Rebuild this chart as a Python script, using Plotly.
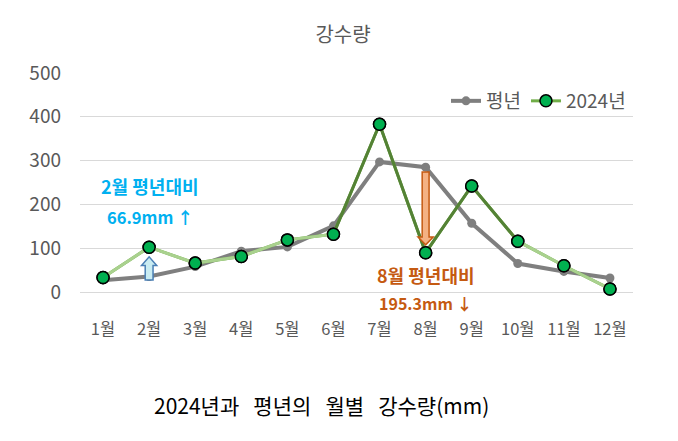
import plotly.graph_objects as go

months = ["1월", "2월", "3월", "4월", "5월", "6월", "7월", "8월", "9월", "10월", "11월", "12월"]
normal = [27, 35.4, 58, 93, 103, 151, 297, 285, 157, 65, 47, 32]
y2024 = [33, 102.3, 66, 81, 119, 132, 383, 89.7, 242, 116, 60, 7]
y_ticks = [0, 100, 200, 300, 400, 500]

FONT = "Noto Sans CJK KR"
GRAY_TXT = "#595959"
LIGHT_G = "#a9d18e"
DARK_G = "#548235"

# page has an 8px body margin; work in reference-pixel coordinates and shift
OFF = 8
W, H = 678 - OFF, 441 - OFF
PL, PR, PT, PB = 80, 633, 73, 292  # plot area in reference pixels
PW, PHh = PR - PL, PB - PT


def px(x):
    return (x - PL) / PW


def py(y):
    return (PB - y) / PHh


xs = list(range(len(months)))
fig = go.Figure()

fig.add_trace(go.Scatter(
    x=xs, y=normal, name="평년", mode="lines+markers",
    line=dict(color="#7f7f7f", width=4),
    marker=dict(color="#7f7f7f", size=9),
    cliponaxis=False,
))
fig.add_trace(go.Scatter(
    x=xs, y=y2024, name="2024년", mode="lines+markers",
    line=dict(color="#70ad47", width=3),
    marker=dict(color="#00b050", size=12, line=dict(color="black", width=1.5)),
    cliponaxis=False,
))
segments = [(0, 6, LIGHT_G), (5, 10, DARK_G), (9, 12, LIGHT_G)]
for a, b, c in segments:
    fig.add_trace(go.Scatter(
        x=xs[a:b], y=y2024[a:b], mode="lines", showlegend=False,
        line=dict(color=c, width=3), hoverinfo="skip", cliponaxis=False,
    ))
fig.add_trace(go.Scatter(
    x=xs, y=y2024, mode="markers", showlegend=False,
    marker=dict(color="#00b050", size=12, line=dict(color="black", width=1.5)),
    cliponaxis=False,
))


def block_arrow(xc, y0, y1, bw=0.075, hw=0.165, hh=18):
    d = 1 if y1 > y0 else -1
    ys = y1 - d * hh
    return (f"M {xc-bw},{y0} L {xc-bw},{ys} L {xc-hw},{ys} L {xc},{y1} "
            f"L {xc+hw},{ys} L {xc+bw},{ys} L {xc+bw},{y0} Z")


i_up = 1
fig.add_shape(type="path", xref="x", yref="y",
              path=block_arrow(xs[i_up], normal[i_up] - 8, y2024[i_up] - 22, bw=0.085, hw=0.165, hh=20),
              fillcolor="#c9ecf2", line=dict(color="#4a7fb5", width=1.5), layer="above")
i_dn = 7
fig.add_shape(type="path", xref="x", yref="y",
              path=block_arrow(xs[i_dn], normal[i_dn] - 11, y2024[i_dn] + 18, bw=0.075, hw=0.165, hh=18),
              fillcolor="#f4b183", line=dict(color="#c55a11", width=1.5), layer="above")

annos = [
    dict(text="<b>2월 평년대비</b>", x=99, y=186, color="#00b0f0", size=18),
    dict(text="<b>66.9mm ↑</b>", x=105, y=217, color="#00b0f0", size=16.5),
    dict(text="<b>8월 평년대비</b>", x=375, y=275, color="#c55a11", size=18),
    dict(text="<b>195.3mm ↓</b>", x=377, y=303, color="#c55a11", size=16),
]
for a in annos:
    fig.add_annotation(text=a["text"], xref="paper", yref="paper",
                       x=px(a["x"]), y=py(a["y"]),
                       xanchor="left", yanchor="middle", showarrow=False,
                       font=dict(family=FONT, size=a["size"], color=a["color"]))

sp = "\u00a0\u00a0\u00a0"
fig.add_annotation(text=f"2024년과{sp}평년의{sp}월별{sp}강수량(mm)",
                   xref="paper", yref="paper", x=px(321), y=py(405),
                   xanchor="center", yanchor="middle", showarrow=False,
                   font=dict(family=FONT, size=21, color="#000000"))

fig.update_layout(
    width=W, height=H,
    margin=dict(l=PL - OFF, r=W - (PR - OFF), t=PT - OFF, b=H - (PB - OFF)),
    paper_bgcolor="white", plot_bgcolor="white",
    title=dict(text="강수량", x=(343 - OFF) / W, xanchor="center",
               y=1 - (35 - OFF) / H, yanchor="middle",
               font=dict(family=FONT, size=20, color=GRAY_TXT)),
    font=dict(family=FONT, color=GRAY_TXT),
    legend=dict(orientation="h", x=px(446), y=py(101),
                xanchor="left", yanchor="middle", bgcolor="rgba(0,0,0,0)",
                font=dict(family=FONT, size=19, color=GRAY_TXT),
                itemwidth=30, tracegroupgap=0),
    showlegend=True,
    xaxis=dict(range=[-0.5, 11.5], tickmode="array", tickvals=xs, ticktext=months,
               showgrid=False, zeroline=False, showline=False, ticks="",
               tickfont=dict(family=FONT, size=16.5, color=GRAY_TXT),
               ticklabelstandoff=25, fixedrange=True),
    yaxis=dict(range=[0, 500], tickmode="array", tickvals=y_ticks,
               showgrid=True, gridcolor="#d9d9d9", gridwidth=1,
               zeroline=True, zerolinecolor="#d9d9d9", zerolinewidth=1,
               showline=False, ticks="",
               tickfont=dict(family=FONT, size=19, color=GRAY_TXT),
               ticklabelstandoff=18, fixedrange=True),
)

fig.write_html("out.html")
